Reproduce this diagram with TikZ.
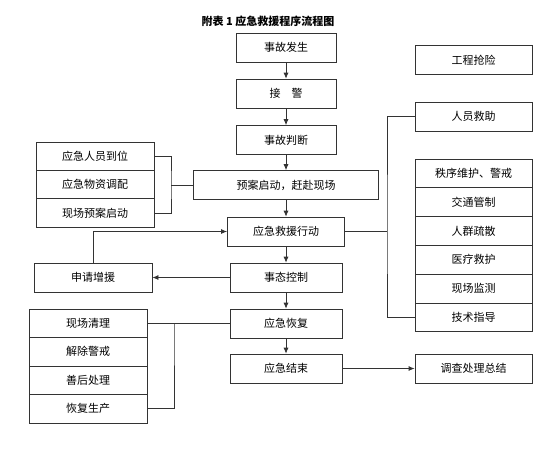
\documentclass[tikz,border=0pt]{standalone}
\usepackage{fontspec}
\newfontfamily\cjk{Noto Sans CJK SC}
\usetikzlibrary{arrows.meta}
\tikzset{flowbox/.style={draw=black!80, line width=0.8pt, minimum width=#1, minimum height=28.8pt, inner sep=0pt, font=\cjk\fontsize{11}{13}\selectfont},
%default width of a box
flowbox/.default={117pt},
link/.style={draw=black!80, line width=0.8pt}}

\begin{document}
\begin{tikzpicture}[x=1pt,y=-1pt,>={Latex[length=6pt,width=5pt]}]
\useasboundingbox (0,0) rectangle (560,448);
%\draw [help lines,step=20] (0,0) grid (560,448);
% title
\node (title) at (268,21) {\cjk\bfseries\fontsize{11}{13}\selectfont 附表 1 应急救援程序流程图};

% main column
\node[flowbox=100pt] (fs) at (286,47.5) {事故发生};
\node[flowbox=100pt] (jj) at (286,93.5) {接\quad 警};
\node[flowbox=100pt] (pd) at (286,140) {事故判断};
\node[flowbox=185pt] (qd) at (286,185) {预案启动，赶赴现场};
\node[flowbox=117pt] (xd) at (286,231.5) {应急救援行动};
\node[flowbox=112pt] (kz) at (286,277.5) {事态控制};
\node[flowbox=112pt] (hf) at (286,323.5) {应急恢复};
\node[flowbox=112pt] (js) at (286,368.5) {应急结束};

% right column
\node[flowbox] (gc) at (473.5,60) {工程抢险};
\node[flowbox] (jz) at (473.5,116.5) {人员救助};
\foreach \t [count=\i] in {秩序维护、警戒,交通管制,人群疏散,医疗救护,现场监测,技术指导}
     \node[flowbox] (r\i) at (473.5,{144.6+\i*28.8}) {\t};
\node[flowbox] (dc) at (473.5,368.5) {调查处理总结};

% left column
\foreach \t [count=\i] in {应急人员到位,应急物资调配,现场预案启动}
     \node[flowbox=118pt, minimum height=28.4pt] (l\i) at (95,{127.8+\i*28.4}) {\t};
\node[flowbox=118pt] (sq) at (93,277.5) {申请增援};
\foreach \t [count=\i] in {现场清理,解除警戒,善后处理,恢复生产}
     \node[flowbox=118pt, minimum height=28.5pt] (b\i) at (88,{294.75+\i*28.5}) {\t};

% arrows down the main column
\foreach \a/\b in {fs/jj,jj/pd,pd/qd,qd/xd,xd/kz,kz/hf,hf/js}
     \draw [link,->] (\a) -- (\b);
\draw [link,->] (kz) -- (sq);
\draw [link,->] (sq.north) |- (xd.west);
\draw [link,->] (js) -- (dc);

%brackets
\coordinate (lk) at (171,185);
\draw [link] (l1.east) -| (lk) |- (l3.east);
\draw [link] (lk) -- (qd.west);
\coordinate (bk) at (174,323.5);
\draw [link] (b1.east) -| (bk) |- (b4.east);
\draw [link] (bk) -- (hf.west);
\coordinate (rk) at (387,231.5);
\draw [link] (jz.west) -| (rk) |- (r6.west);
\draw [link] (xd.east) -- (rk);

\end{tikzpicture}
\end{document}
